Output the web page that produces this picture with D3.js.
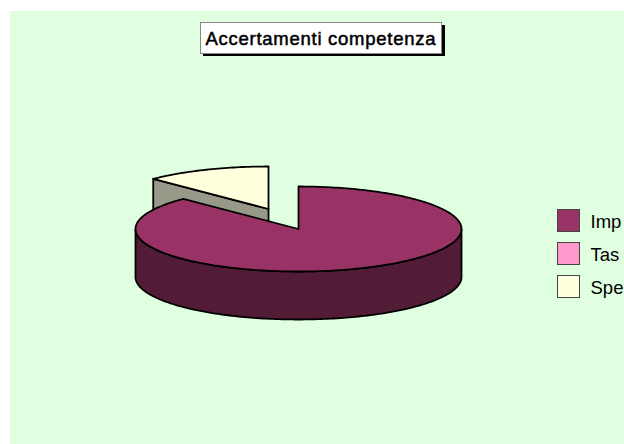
<!DOCTYPE html>
<html>
<head>
<meta charset="utf-8">
<script src="https://cdn.jsdelivr.net/npm/d3@7"></script>
<style>
  html, body { margin: 0; padding: 0; background: #fff; overflow: hidden; }
  svg { display: block; }
</style>
</head>
<body>
<svg></svg>
<script>
// Chart data
let categories = ['Imp', 'Tas', 'Spe'];
let values = [87.5, 0, 12.5];
let colors = ['#993366', '#ff99cc', '#ffffdd'];
let sideColors = ['#521c37', '#8a5270', '#99998a'];
let title = 'Accertamenti competenza';

// SVG dimensions
let width = 624, height = 444;
let cx = 298.5, cy = 229, rx = 163, ry = 42.5, depth = 48;
// how far the small slice is pulled out
let explodeX = -30, explodeY = -20;
let strokeW = 1.8;

let svg = d3.select('svg').attr('width', width).attr('height', height);

// Plot background
svg.append('rect')
    .attr('x', 10).attr('y', 11)
    .attr('width', width - 10).attr('height', height - 11)
    .attr('fill', '#e0ffe0');

// Angles from the library, squashed into an ellipse
let slices = d3.pie().sort(null)(values);

function point(a, ox, oy) {
    return [ox + rx * Math.sin(a), oy - ry * Math.cos(a)];
}

function arcPoints(a0, a1, ox, oy) {
    let n = Math.max(2, Math.ceil(Math.abs(a1 - a0) / 0.02));
    return d3.range(n + 1).map((i) => point(a0 + (a1 - a0) * i / n, ox, oy));
}

let line = d3.line();

function drawSlice(d, i, ox, oy) {
    if (d.value === 0) return;
    let g = svg.append('g').attr('class', 'slice');

    // radial wall, only when it faces the viewer
    if (d.startAngle > Math.PI) {
        let p = point(d.startAngle, ox, oy);
        let wall = [[ox, oy], p, [p[0], p[1] + depth], [ox, oy + depth]];
        g.append('path')
            .attr('d', line(wall) + 'Z')
            .attr('fill', sideColors[i])
            .attr('stroke', '#000').attr('stroke-width', strokeW);
    }

    // outer wall, front half of the rim only
    let a0 = Math.max(d.startAngle, Math.PI / 2);
    let a1 = Math.min(d.endAngle, Math.PI * 1.5);
    if (a1 > a0) {
        let top = arcPoints(a0, a1, ox, oy);
        let bottom = top.map((p) => [p[0], p[1] + depth]).reverse();
        g.append('path')
            .attr('d', line(top.concat(bottom)) + 'Z')
            .attr('fill', sideColors[i])
            .attr('stroke', '#000').attr('stroke-width', strokeW);
    }

    // top face
    let face = [[ox, oy]].concat(arcPoints(d.startAngle, d.endAngle, ox, oy));
    g.append('path')
        .attr('d', line(face) + 'Z')
        .attr('fill', colors[i])
        .attr('stroke', '#000')
        .attr('stroke-width', strokeW)
        .attr('stroke-linejoin', 'round');
}

// Back slice first, then the big one in front of it
drawSlice(slices[2], 2, cx + explodeX, cy + explodeY);
drawSlice(slices[0], 0, cx, cy);

// Title box with its hard shadow
svg.append('rect')
    .attr('x', 203).attr('y', 25).attr('width', 242).attr('height', 31)
    .attr('fill', '#000');
svg.append('rect')
    .attr('x', 200.5).attr('y', 22.5).attr('width', 241).attr('height', 31)
    .attr('fill', '#fff').attr('stroke', '#888').attr('stroke-width', 1);
svg.append('text')
    .attr('x', 320.5).attr('y', 44.5)
    .attr('text-anchor', 'middle')
    .attr('font-family', '"Liberation Sans", Arial, sans-serif')
    .attr('font-size', 18.5)
    .attr('fill', '#000')
    .attr('stroke', '#000')
    .attr('stroke-width', 0.5)
    .attr('textLength', 230)
    .text(title);

// Legend
let legendY = d3.scalePoint().domain(categories).range([209, 275]);
let legend = svg.selectAll('.legend-item')
    .data(categories)
    .enter()
    .append('g')
    .attr('class', 'legend-item')
    .attr('transform', (d) => `translate(557.5, ${legendY(d) + 0.5})`);

legend.append('rect')
    .attr('width', 22).attr('height', 22)
    .attr('fill', (d, i) => colors[i])
    .attr('stroke', '#444').attr('stroke-width', 1);

legend.append('text')
    .attr('x', 33).attr('y', 18)
    .attr('font-family', '"Liberation Sans", Arial, sans-serif')
    .attr('font-size', 18.5)
    .attr('fill', '#000')
    .text((d) => d);
</script>
</body>
</html>
